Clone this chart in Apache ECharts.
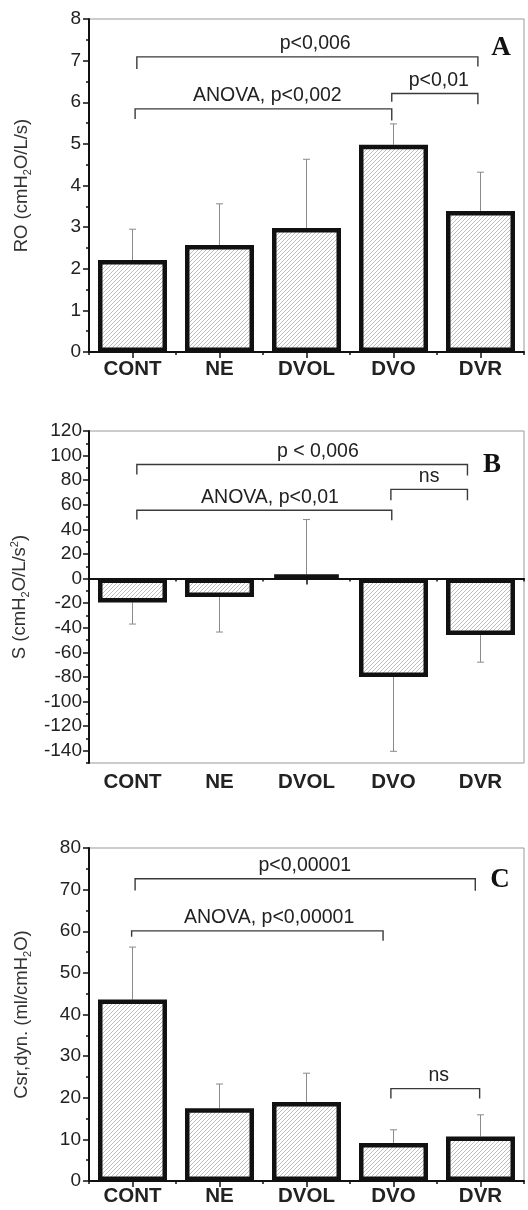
<!DOCTYPE html>
<html><head><meta charset="utf-8">
<script src="https://cdn.jsdelivr.net/npm/echarts@6/dist/echarts.min.js"></script>
<style>html,body{margin:0;padding:0;background:#fff}#c{width:528px;height:1210px}</style>
</head><body><div id="c"></div><script>
const categories = ['CONT', 'NE', 'DVOL', 'DVO', 'DVR'];

// Panel A: RO (cmH2O/L/s) — mean and end of SD whisker
const roMean = [2.21, 2.57, 2.98, 4.98, 3.39];
const roSdEnd = [2.95, 3.56, 4.63, 5.48, 4.32];
// Panel B: S (cmH2O/L/s^2)
const sMean = [-19.5, -15, 3.5, -80, -46];
const sSdEnd = [-37, -43.5, 48, -140.5, -68];
// Panel C: Csr,dyn. (ml/cmH2O)
const cMean = [43.6, 17.5, 19.0, 9.1, 10.7];
const cSdEnd = [56.2, 23.3, 25.9, 12.3, 15.9];

// axis ticks
const roTicks = [0, 1, 2, 3, 4, 5, 6, 7, 8];
const sTicks = [-140, -120, -100, -80, -60, -40, -20, 0, 20, 40, 60, 80, 100, 120];
const sRange = [-150, 120];
const cTicks = [0, 10, 20, 30, 40, 50, 60, 70, 80];

// significance brackets: [xStart, xEnd, yBar, yLeftEnd, yRightEnd, xText] on a 0..5 group axis
const roBrackets = [[0.55, 4.47, 7.09, 6.80, 6.86, 2.60], [0.53, 3.48, 5.84, 5.60, 5.56, 2.05], [3.48, 4.47, 6.21, 6.01, 5.95, 4.02]];
const roBracketLabels = ['p<0,006', 'ANOVA, p<0,002', 'p<0,01'];
const sBrackets = [[0.55, 4.35, 92.7, 84.6, 83.8, 2.63], [0.55, 3.48, 55.5, 48, 47.4, 2.08], [3.47, 4.35, 72.5, 63.6, 63.6, 3.91]];
const sBracketLabels = ['p < 0,006', 'ANOVA, p<0,01', 'ns'];
const cBrackets = [[0.53, 4.44, 72.6, 69.8, 69.7, 2.48], [0.49, 3.38, 60.1, 58.7, 57.7, 2.07], [3.47, 4.49, 22.2, 19.8, 19.8, 4.02]];
const cBracketLabels = ['p<0,00001', 'ANOVA, p<0,00001', 'ns'];

const panelLetters = ['A', 'B', 'C'];

function hatch() {
  const c = document.createElement('canvas');
  c.width = 4; c.height = 4;
  const g = c.getContext('2d');
  g.fillStyle = '#fff'; g.fillRect(0, 0, 4, 4);
  g.strokeStyle = '#a2a2a2'; g.lineWidth = 0.7;
  g.beginPath();
  g.moveTo(-1, 5); g.lineTo(5, -1);
  g.moveTo(-1, 1); g.lineTo(1, -1);
  g.moveTo(3, 5); g.lineTo(5, 3);
  g.stroke();
  return c;
}
const pattern = { image: hatch(), repeat: 'repeat' };

const FONT = 'Liberation Sans, Arial, sans-serif';
const rich = {
  t: { fontSize: 18.5, fontFamily: FONT, color: '#333', lineHeight: 22 },
  s: { fontSize: 11, fontFamily: FONT, color: '#333', lineHeight: 22, verticalAlign: 'bottom' },
  p: { fontSize: 11, fontFamily: FONT, color: '#333', lineHeight: 22, verticalAlign: 'top' }
};

const grids = [
  { left: 89, top: 19, width: 435, height: 333 },
  { left: 89, top: 431, width: 435, height: 332 },
  { left: 89, top: 848, width: 435, height: 333 }
].map(g => Object.assign(g, { show: true, borderColor: '#999', borderWidth: 1, backgroundColor: 'transparent' }));

const xAxis = [];
const yAxis = [];
const series = [];
const xLabel = { show: true, fontSize: 20.5, fontWeight: 'bold', fontFamily: FONT, color: '#222' };

function catAxis(gi, extra) {
  return Object.assign({
    gridIndex: gi, type: 'category', data: categories, position: 'bottom',
    axisLine: { show: true, lineStyle: { color: '#111', width: 2 } },
    axisTick: { show: true, alignWithLabel: true, length: 6, lineStyle: { color: '#111', width: 1.5 } },
    axisLabel: Object.assign({ margin: 7 }, xLabel),
    splitLine: { show: false }
  }, extra || {});
}
function valXAxis(gi) {
  return {
    gridIndex: gi, type: 'value', min: 0, max: 5, interval: 1, position: 'bottom',
    axisLine: { show: false, onZero: true },
    axisTick: { show: true, length: 3, lineStyle: { color: '#111', width: 1.5 } },
    axisLabel: { show: false }, splitLine: { show: false }
  };
}
const yLabel = { fontSize: 19, fontFamily: FONT, color: '#222', margin: 8 };
function yAx(gi, ticks, name, nameGap, extra) {
  return Object.assign({
    gridIndex: gi, type: 'value', position: 'left',
    min: ticks[0], max: ticks[ticks.length - 1], interval: ticks[1] - ticks[0],
    axisLine: { show: true, onZero: false, lineStyle: { color: '#111', width: 2 } },
    axisTick: { show: true, length: 6, lineStyle: { color: '#111', width: 1.5 } },
    minorTick: { show: true, splitNumber: 2, length: 3, lineStyle: { color: '#111', width: 1.5 } },
    axisLabel: yLabel,
    splitLine: { show: false },
    name: name, nameLocation: 'middle', nameGap: nameGap, nameRotate: 90,
    nameTextStyle: { rich: rich }
  }, extra || {});
}

function addSeries(xCat, xVal, yi, means, ends, brackets, labels) {
  series.push({
    type: 'bar', xAxisIndex: xCat, yAxisIndex: yi, barWidth: 69, z: 3,
    data: means,
    itemStyle: { color: pattern, borderColor: '#111', borderWidth: 4.5 },
    emphasis: { disabled: true }, animation: false
  });
  series.push({
    type: 'custom', xAxisIndex: xCat, yAxisIndex: yi, z: 2, animation: false, silent: true,
    data: means.map((m, i) => [i, m, ends[i]]),
    encode: { x: 0, y: [1, 2] },
    renderItem: function (params, api) {
      const p0 = api.coord([api.value(0), api.value(1)]);
      const p1 = api.coord([api.value(0), api.value(2)]);
      const st = { stroke: '#8a8a8a', lineWidth: 1 };
      return {
        type: 'group', children: [
          { type: 'line', shape: { x1: p0[0], y1: p0[1], x2: p1[0], y2: p1[1] }, style: st },
          { type: 'line', shape: { x1: p1[0] - 3.5, y1: p1[1], x2: p1[0] + 3.5, y2: p1[1] }, style: st }
        ]
      };
    }
  });
  series.push({
    type: 'custom', xAxisIndex: xVal, yAxisIndex: yi, z: 4, animation: false, silent: true,
    data: brackets, encode: { x: [0, 1], y: [2, 3, 4] },
    renderItem: function (params, api) {
      const a = api.coord([api.value(0), api.value(3)]);
      const b = api.coord([api.value(0), api.value(2)]);
      const c = api.coord([api.value(1), api.value(2)]);
      const d = api.coord([api.value(1), api.value(4)]);
      const t = api.coord([api.value(5), api.value(2)]);
      return {
        type: 'group', children: [
          { type: 'polyline', shape: { points: [a, b, c, d] }, style: { stroke: '#3a3a3a', lineWidth: 1.4, fill: null } },
          { type: 'text', x: t[0], y: t[1] - 3, style: { text: labels[params.dataIndex], fontSize: 19.5, fontFamily: FONT, fill: '#222', align: 'center', verticalAlign: 'bottom' } }
        ]
      };
    }
  });
}

// Panel A
xAxis.push(catAxis(0));
xAxis.push(valXAxis(0));
yAxis.push(yAx(0, roTicks, '{t|RO (cmH}{s|2}{t|O/L/s)}', 56));
addSeries(0, 1, 0, roMean, roSdEnd, roBrackets, roBracketLabels);

// Panel B
xAxis.push(catAxis(1, { axisLabel: { show: false }, axisLine: { show: true, onZero: true, lineStyle: { color: '#111', width: 2 } } }));
xAxis.push(valXAxis(1));
xAxis.push(catAxis(1, { axisLine: { show: false, onZero: false }, axisTick: { show: false },
  axisLabel: Object.assign({ margin: 9 }, xLabel) }));
yAxis.push(yAx(1, sTicks, '{t|S (cmH}{s|2}{t|O/L/s}{p|2}{t|)}', 58, {
  min: sRange[0], max: sRange[1], interval: 10,
  axisTick: { show: true, length: 6, customValues: sTicks, lineStyle: { color: '#111', width: 1.5 } },
  axisLabel: Object.assign({ customValues: sTicks }, yLabel, { margin: 7 }),
  minorTick: { show: false }
}));
yAxis.push({
  gridIndex: 1, type: 'value', position: 'left', min: sRange[0], max: sRange[1], interval: 10,
  axisLine: { show: false }, axisTick: { show: true, length: 3, lineStyle: { color: '#111', width: 1.5 } },
  axisLabel: { show: false }, splitLine: { show: false }
});
addSeries(2, 3, 1, sMean, sSdEnd, sBrackets, sBracketLabels);

// Panel C
xAxis.push(catAxis(2, { axisLabel: Object.assign({ margin: 5 }, xLabel) }));
xAxis.push(valXAxis(2));
yAxis.push(yAx(2, cTicks, '{t|Csr,dyn. (ml/cmH}{s|2}{t|O)}', 56));
addSeries(5, 6, 3, cMean, cSdEnd, cBrackets, cBracketLabels);

const letterPos = [[501, 48], [492, 465], [500, 880]];
const graphic = panelLetters.map((L, i) => ({
  type: 'text', x: letterPos[i][0], y: letterPos[i][1], z: 10,
  style: { text: L, font: 'bold 27px "Liberation Serif", "Times New Roman", serif', fill: '#111', align: 'center', verticalAlign: 'middle' }
}));

const chart = echarts.init(document.getElementById('c'), null, { renderer: 'canvas' });
chart.setOption({
  animation: false,
  backgroundColor: '#fff',
  textStyle: { fontFamily: FONT },
  grid: grids, xAxis: xAxis, yAxis: yAxis, series: series, graphic: graphic
});
</script></body></html>
